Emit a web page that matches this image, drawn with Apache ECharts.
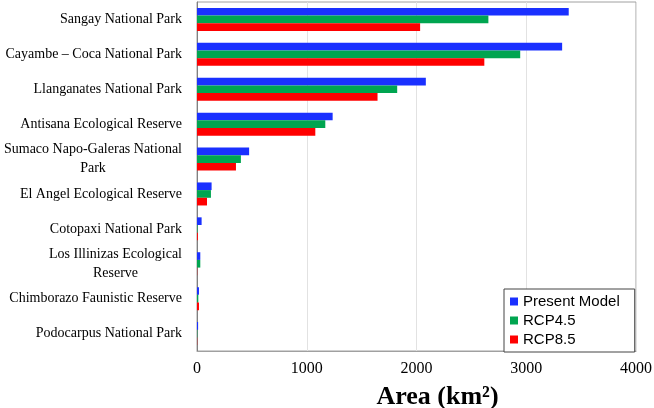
<!DOCTYPE html>
<html>
<head>
<meta charset="utf-8">
<script src="https://cdn.jsdelivr.net/npm/echarts@6/dist/echarts.min.js"></script>
<style>html,body{margin:0;padding:0;background:#fff}#c{width:654px;height:408px}</style>
</head>
<body>
<div id="c"></div>
<script>
var categories = ['Sangay National Park', 'Cayambe \u2013 Coca National Park', 'Llanganates National Park', 'Antisana Ecological Reserve', 'Sumaco Napo-Galeras National\nPark', 'El Angel Ecological Reserve', 'Cotopaxi National Park', 'Los Illinizas Ecological\nReserve', 'Chimborazo Faunistic Reserve', 'Podocarpus National Park'];
var presentModel = [3387, 3327, 2085, 1236, 475, 133, 42, 30, 18, 10];
var rcp45 = [2655, 2945, 1824, 1169, 400, 127, 5, 30, 12, 3];
var rcp85 = [2033, 2618, 1645, 1078, 355, 91, 8, 2, 18, 2];
var xTicks = [0, 1000, 2000, 3000, 4000];

var chart = echarts.init(document.getElementById('c'));
function mk(name, data, color) {
  return {
    name: name, type: 'bar', data: data,
    barGap: '0%', barCategoryGap: '34%',
    itemStyle: { color: color },
    emphasis: { disabled: true }
  };
}
chart.setOption({
  animation: false,
  grid: { left: 197, right: 18, top: 2, bottom: 57, show: true, borderColor: '#a0a0a0', borderWidth: 1,
    containLabel: false, outerBoundsMode: 'none' },
  legend: {
    orient: 'vertical', left: 504, top: 289,
    padding: [5, 15, 5, 6], itemGap: 4, itemWidth: 8, itemHeight: 8,
    backgroundColor: '#fff', borderColor: '#444', borderWidth: 1,
    icon: 'rect',
    textStyle: { fontFamily: 'Liberation Sans', fontSize: 15, color: '#000', lineHeight: 15 },
    data: ['Present Model', 'RCP4.5', 'RCP8.5']
  },
  xAxis: {
    type: 'value', min: xTicks[0], max: xTicks[xTicks.length - 1], interval: 1000,
    axisLine: { show: true, lineStyle: { color: '#a0a0a0' } },
    axisTick: { show: false },
    splitLine: { show: true, lineStyle: { color: '#e2e2e2' } },
    axisLabel: { fontFamily: 'Liberation Serif', fontSize: 16, color: '#000', margin: 10,
      formatter: function (v) { return String(v); } },
    name: 'Area (km\u00b2)', nameLocation: 'middle', nameGap: 33,
    nameTextStyle: { fontFamily: 'Liberation Serif', fontSize: 26, fontWeight: 'bold', color: '#000', padding: [0, 0, 0, 42] }
  },
  yAxis: {
    type: 'category', data: categories, inverse: true,
    axisLine: { show: true, lineStyle: { color: '#808080' } },
    axisTick: { show: false },
    axisLabel: {
      fontFamily: 'Liberation Serif', fontSize: 14, color: '#000', margin: 15, lineHeight: 19,
      formatter: function (v) {
        if (v.indexOf('\n') >= 0) {
          return v.split('\n').map(function (s) { return '{c|' + s + '}'; }).join('\n');
        }
        return v;
      },
      rich: { c: { align: 'center', fontFamily: 'Liberation Serif', fontSize: 14, color: '#000', lineHeight: 19 } }
    }
  },
  series: [
    mk('Present Model', presentModel, '#1a30ff'),
    mk('RCP4.5', rcp45, '#00a550'),
    mk('RCP8.5', rcp85, '#ff0000')
  ]
});
</script>
</body>
</html>
